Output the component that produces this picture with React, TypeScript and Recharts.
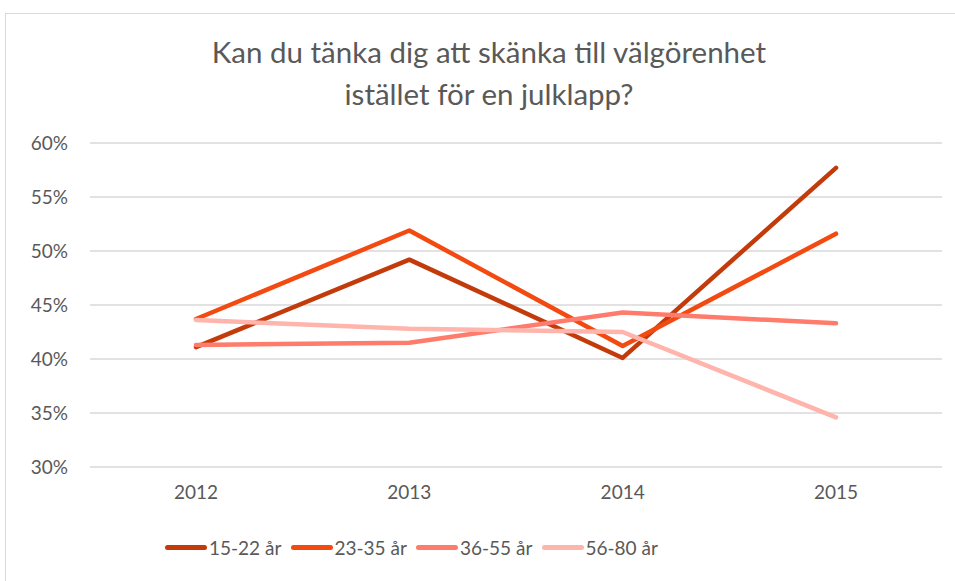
import { LineChart, Line, XAxis, YAxis, CartesianGrid } from 'recharts';

const years = ['2012', '2013', '2014', '2015'];
const age15to22 = [41.1, 49.2, 40.1, 57.7];
const age23to35 = [43.7, 51.9, 41.2, 51.6];
const age36to55 = [41.3, 41.5, 44.3, 43.3];
const age56to80 = [43.6, 42.8, 42.5, 34.6];
const yTicks = [30, 35, 40, 45, 50, 55, 60];

const SERIES = [
    { key: 'a', name: '15-22 år', values: age15to22, color: '#C33B0B' },
    { key: 'b', name: '23-35 år', values: age23to35, color: '#F24A10' },
    { key: 'c', name: '36-55 år', values: age36to55, color: '#FF7B6B' },
    { key: 'd', name: '56-80 år', values: age56to80, color: '#FFB4AC' },
];

const FONT = 'Lato, "Open Sans", sans-serif';
const TEXT = '#595959';

export default function App() {
    // one row per year, one column per age group
    const data = years.map((year, i) => {
        const row: Record<string, any> = { year };
        SERIES.forEach(s => { row[s.key] = s.values[i]; });
        return row;
    });

    return (
        <div style={{ position: 'absolute', left: 0, top: 0, width: 955, height: 581, overflow: 'hidden', background: '#fff', fontFamily: FONT }}>
            <div style={{ position: 'absolute', left: 5, top: 13, width: 970, height: 580, border: '1px solid #d9d9d9' }} />
            <div style={{ position: 'absolute', left: 0, top: 31, width: 978, textAlign: 'center', color: TEXT, fontSize: 29.5, lineHeight: '42px' }}>
                Kan du tänka dig att skänka till välgörenhet<br />istället för en julklapp?
            </div>
            <div style={{ position: 'absolute', left: 0, top: 0 }}>
                <LineChart width={955} height={581} data={data} margin={{ top: 143, right: 13, left: 30, bottom: 84 }}>
                    <CartesianGrid vertical={false} stroke="#d9d9d9" strokeWidth={1.3} />
                    <XAxis
                        dataKey="year"
                        axisLine={false}
                        tickLine={false}
                        tickSize={0}
                        tickMargin={19}
                        height={30}
                        padding={{ left: 106, right: 106 }}
                        tick={{ fill: TEXT, fontSize: 19, fontFamily: FONT }}
                    />
                    <YAxis
                        domain={[30, 60]}
                        ticks={yTicks}
                        width={60}
                        axisLine={false}
                        tickLine={false}
                        tickSize={0}
                        tickMargin={22}
                        tickFormatter={(v) => `${v}%`}
                        tick={{ fill: TEXT, fontSize: 19, fontFamily: FONT }}
                    />
                    {SERIES.map(s => (
                        <Line
                            key={s.key}
                            dataKey={s.key}
                            name={s.name}
                            stroke={s.color}
                            strokeWidth={4.5}
                            strokeLinecap="round"
                            strokeLinejoin="round"
                            dot={false}
                            activeDot={false}
                            isAnimationActive={false}
                        />
                    ))}
                </LineChart>
            </div>
            {/* legend, drawn by hand to match the swatch style */}
            {SERIES.map((s, i) => (
                <div key={s.key} style={{ position: 'absolute', left: 165 + i * 125.5, top: 536, display: 'flex', alignItems: 'center', color: TEXT, fontSize: 19 }}>
                    <span style={{ display: 'inline-block', width: 42, height: 5, borderRadius: 3, background: s.color, marginRight: 2 }} />
                    <span>{s.name}</span>
                </div>
            ))}
        </div>
    );
}
